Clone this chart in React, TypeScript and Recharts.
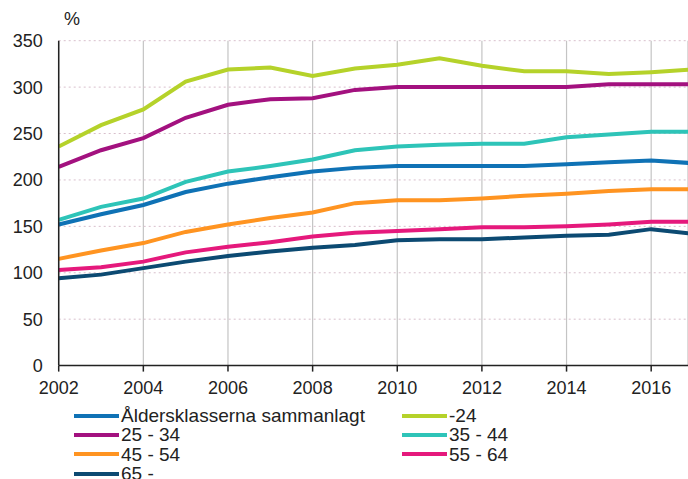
import React from 'react';
import { LineChart, Line, XAxis, YAxis, CartesianGrid, Legend } from 'recharts';

const years = [2002, 2003, 2004, 2005, 2006, 2007, 2008, 2009, 2010, 2011, 2012, 2013, 2014, 2015, 2016, 2017];
const total = [152, 163, 173, 187, 196, 203, 209, 213, 215, 215, 215, 215, 217, 219, 221, 218];
const under24 = [236, 259, 276, 306, 319, 321, 312, 320, 324, 331, 323, 317, 317, 314, 316, 319];
const age25_34 = [214, 232, 245, 267, 281, 287, 288, 297, 300, 300, 300, 300, 300, 303, 303, 303];
const age35_44 = [157, 171, 180, 198, 209, 215, 222, 232, 236, 238, 239, 239, 246, 249, 252, 252];
const age45_54 = [115, 124, 132, 144, 152, 159, 165, 175, 178, 178, 180, 183, 185, 188, 190, 190];
const age55_64 = [103, 106, 112, 122, 128, 133, 139, 143, 145, 147, 149, 149, 150, 152, 155, 155];
const age65 = [94, 98, 105, 112, 118, 123, 127, 130, 135, 136, 136, 138, 140, 141, 147, 142];

const xTicks = [2002, 2004, 2006, 2008, 2010, 2012, 2014, 2016];
const yTicks = [0, 50, 100, 150, 200, 250, 300, 350];

const seriesNames = ['Åldersklasserna sammanlagt', '-24', '25 - 34', '35 - 44', '45 - 54', '55 - 64', '65 -'];
const seriesKeys = ['total', 'u24', 'a25', 'a35', 'a45', 'a55', 'a65'];
const seriesColors = ['#0f72b5', '#b5d22a', '#a3117f', '#2ec4b8', '#ff9421', '#e5197c', '#0c4a72'];
const seriesValues = [total, under24, age25_34, age35_44, age45_54, age55_64, age65];

const data = years.map((y, i) => {
  const row: Record<string, number> = { year: y };
  seriesKeys.forEach((k, j) => {
    row[k] = seriesValues[j][i];
  });
  return row;
});

const FONT = '"Liberation Sans", Arial, sans-serif';

const renderLegend = (props: any) => {
  const payload = [...(props.payload || [])].sort(
    (a: any, b: any) => seriesNames.indexOf(a.value) - seriesNames.indexOf(b.value)
  );
  return (
    <div
      style={{
        display: 'grid',
        gridTemplateColumns: '328px 200px',
        fontFamily: FONT,
        fontSize: 19,
        color: '#222',
        lineHeight: '19.4px',
      }}
    >
      {payload.map((entry: any) => (
        <div key={entry.value} style={{ display: 'flex', alignItems: 'center', height: 19.4, whiteSpace: 'nowrap' }}>
          <svg width={47} height={8} style={{ display: 'block' }}>
            <line x1={0} y1={4} x2={45} y2={4} stroke={entry.color} strokeWidth={4} />
          </svg>
          <span>{entry.value}</span>
        </div>
      ))}
    </div>
  );
};

export default function App() {
  return (
    <div style={{ position: 'absolute', left: 0, top: 0, width: 688, height: 479, background: '#fff' }}>
      <LineChart
        width={688}
        height={479}
        data={data}
        margin={{ top: 40.7, right: 0, bottom: 83.4, left: 0 }}
      >
        <CartesianGrid horizontal={false} stroke="#c4c4c4" strokeWidth={1.2} />
        <CartesianGrid vertical={false} stroke="#d8bfcc" strokeDasharray="2 3" strokeWidth={1} />
        <XAxis
          dataKey="year"
          type="number"
          domain={[2002, 2016.87]}
          allowDataOverflow
          ticks={xTicks}
          height={30}
          tickSize={6}
          tickMargin={10}
          stroke="#222"
          strokeWidth={1.5}
          tick={{ fill: '#222', fontSize: 18, fontFamily: FONT }}
        />
        <YAxis
          type="number"
          domain={[0, 350]}
          ticks={yTicks}
          width={58.7}
          tickLine={false}
          tickSize={0}
          tickMargin={16}
          stroke="#222"
          strokeWidth={1.5}
          tick={{ fill: '#222', fontSize: 18, fontFamily: FONT }}
          label={{
            value: '%',
            content: () => (
              <text x={64} y={25} fill="#222" fontSize={18} fontFamily={FONT}>
                %
              </text>
            ),
          }}
        />
        {seriesKeys.map((k, j) => (
          <Line
            key={k}
            dataKey={k}
            name={seriesNames[j]}
            stroke={seriesColors[j]}
            strokeWidth={4}
            dot={false}
            activeDot={false}
            type="linear"
            isAnimationActive={false}
          />
        ))}
        <Legend
          layout="vertical"
          align="center"
          verticalAlign="middle"
          content={renderLegend}
          wrapperStyle={{ left: 74, top: 406, width: 600 }}
        />
      </LineChart>
    </div>
  );
}
